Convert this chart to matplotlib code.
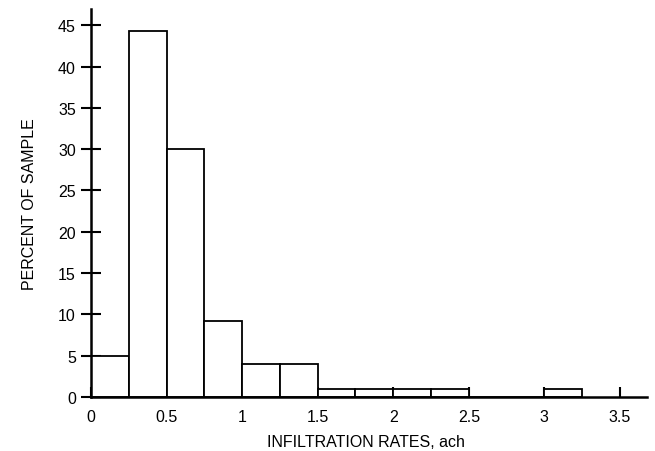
import matplotlib
matplotlib.use("Agg")
import matplotlib.pyplot as plt
import numpy as np

plt.rcParams['font.family'] = ['Liberation Sans', 'DejaVu Sans']

bin_edges = [0, 0.25, 0.5, 0.75, 1.0, 1.25, 1.5, 1.75, 2.0, 2.25, 2.5, 2.75, 3.0, 3.25]
percent = [5, 44.3, 30, 9.2, 4, 4, 1, 1, 1, 1, 0, 0, 1]
xticks = [0, 0.5, 1, 1.5, 2, 2.5, 3, 3.5]
xticklabels = ['0', '0.5', '1', '1.5', '2', '2.5', '3', '3.5']
yticks = [0, 5, 10, 15, 20, 25, 30, 35, 40, 45]

fig = plt.figure(figsize=(6.55, 4.52), dpi=100)
ax = fig.add_axes([0.139, 0.120, 0.849, 0.858])

lefts = np.array(bin_edges[:-1])
widths = np.diff(bin_edges)
ax.bar(lefts, percent, width=widths, align='edge', facecolor='white',
       edgecolor='black', linewidth=1.3, zorder=2)

ax.set_xlim(0, 3.68)
ax.set_ylim(0, 47)
ax.set_xticks(xticks)
ax.set_xticklabels(xticklabels)
ax.set_yticks(yticks)
ax.spines['top'].set_visible(False)
ax.spines['right'].set_visible(False)
for s in ['left', 'bottom']:
    ax.spines[s].set_linewidth(1.8)
    ax.spines[s].set_zorder(3)
ax.tick_params(axis='x', direction='in', length=7, width=1.5, labelsize=11.5, pad=9)
ax.tick_params(axis='y', direction='inout', length=14, width=1.5, labelsize=11.5, pad=4)
ax.set_xlabel('INFILTRATION RATES, ach', fontsize=11.5)
ax.xaxis.set_label_coords(0.495, -0.096)
ax.set_ylabel('PERCENT OF SAMPLE', fontsize=11.5, labelpad=15)

fig.savefig('out.png', dpi=100)
